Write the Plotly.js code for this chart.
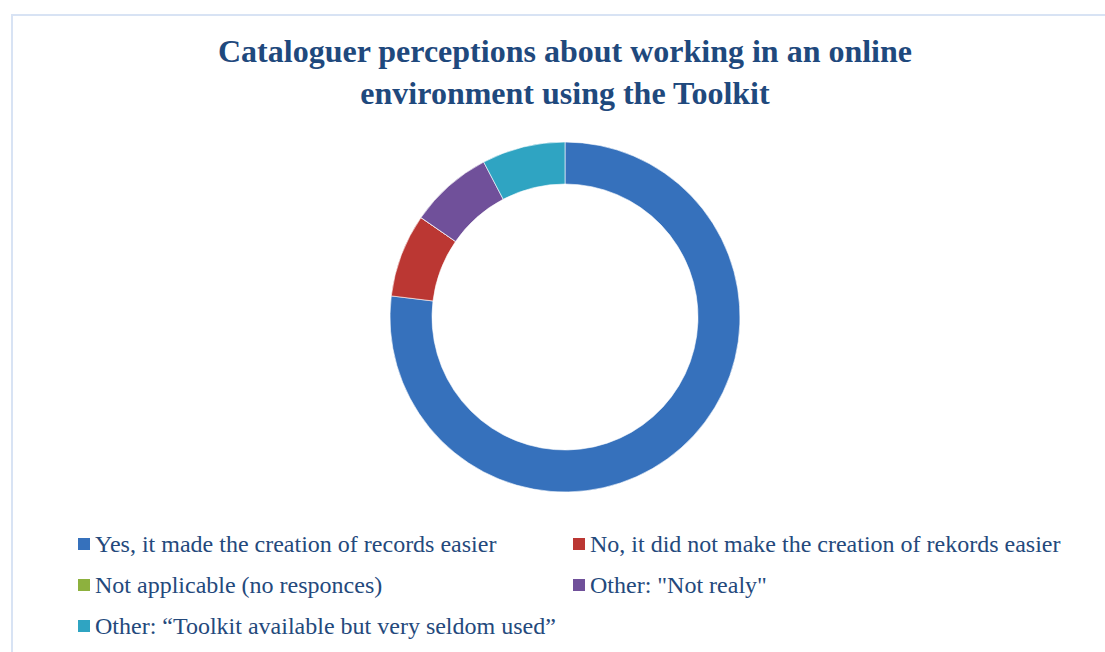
<!DOCTYPE html>
<html>
<head>
<meta charset="utf-8">
<script src="https://cdn.plot.ly/plotly-3.0.1.min.js"></script>
<style>
  html, body { margin: 0; padding: 0; overflow: hidden; background: #ffffff; }
  #frame { position: absolute; left: 11px; top: 14px; width: 1200px; height: 700px;
           border-left: 2px solid #d8e3f4; border-top: 2px solid #d8e3f4; }
  #chart { position: absolute; left: 0; top: 0; width: 1105px; height: 652px; }
</style>
</head>
<body>
<div id="frame"></div>
<div id="chart"></div>
<script>
const categories = [
  'Yes, it made the creation of records easier',
  'No, it did not make the creation of rekords easier',
  'Not applicable (no responces)',
  'Other: "Not realy"',
  'Other: \u201cToolkit available but very seldom used\u201d'
];
const responses = [10, 1, 0, 1, 1];
const sliceColors = ['#3671bc', '#bb3733', '#8db13e', '#70509a', '#2fa4c2'];
const chartTitle = 'Cataloguer perceptions about working in an online<br>environment using the Toolkit';

const W = 1105, H = 652;
const cx = 565, cy = 317, R = 175;
const serif = 'Liberation Serif, Times New Roman, serif';
const textColor = '#24497c';

const trace = {
  type: 'pie',
  labels: categories,
  values: responses,
  hole: 0.76,
  sort: false,
  direction: 'clockwise',
  rotation: 0,
  textinfo: 'none',
  hoverinfo: 'label+value+percent',
  marker: { colors: sliceColors, line: { color: '#ffffff', width: 0.6 } },
  domain: {
    x: [(cx - R) / W, (cx + R) / W],
    y: [(H - cy - R) / H, (H - cy + R) / H]
  },
  showlegend: false
};

// Legend drawn as a two-column grid (squares + labels) from the category arrays
const colX = [78, 573];
const rowY = [544, 585, 626];
const sq = 12;
const shapes = [];
const annotations = [];
categories.forEach((label, i) => {
  const col = i % 2, row = Math.floor(i / 2);
  const x0 = colX[col], yc = rowY[row];
  shapes.push({
    type: 'rect', xref: 'paper', yref: 'paper',
    x0: x0 / W, x1: (x0 + sq) / W,
    y0: 1 - (yc + sq / 2) / H, y1: 1 - (yc - sq / 2) / H,
    fillcolor: sliceColors[i], line: { width: 0 }
  });
  annotations.push({
    xref: 'paper', yref: 'paper',
    x: (x0 + sq + 3) / W, xanchor: 'left',
    y: 1 - yc / H, yanchor: 'middle',
    text: label, showarrow: false,
    font: { family: serif, size: 24, color: textColor }
  });
});

const layout = {
  width: W, height: H,
  margin: { l: 0, r: 0, t: 0, b: 0 },
  paper_bgcolor: 'rgba(0,0,0,0)',
  plot_bgcolor: 'rgba(0,0,0,0)',
  showlegend: false,
  title: {
    text: chartTitle,
    font: { family: serif, size: 32, color: '#1f497d', weight: 'bold' },
    x: 565 / W, xanchor: 'center',
    y: 1 - 62 / H, yanchor: 'top'
  },
  shapes: shapes,
  annotations: annotations
};

Plotly.newPlot('chart', [trace], layout, { displayModeBar: false });
</script>
</body>
</html>
